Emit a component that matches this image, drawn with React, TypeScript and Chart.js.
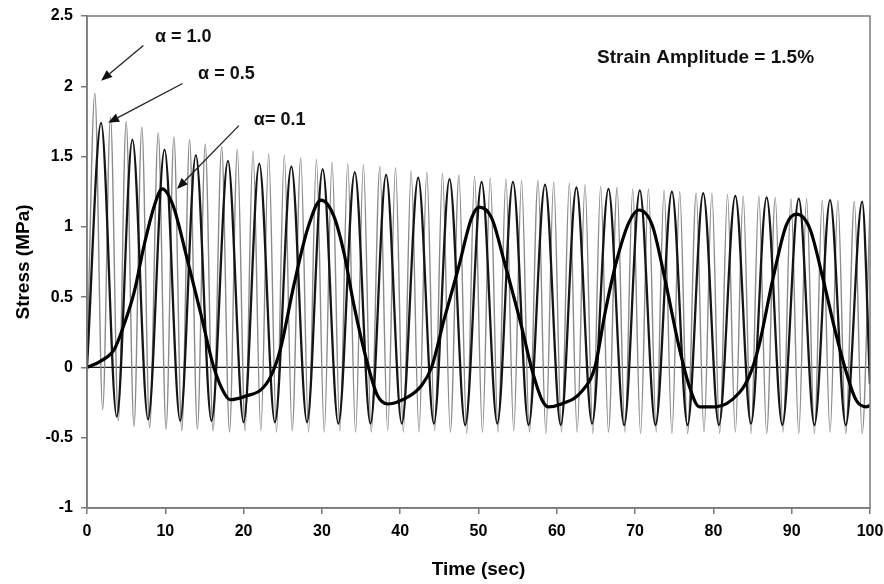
import React, { useEffect, useRef } from 'react';
import { Chart, registerables } from 'chart.js';

Chart.register(...registerables);

// ---------- data ----------
const xTickValues = [0, 10, 20, 30, 40, 50, 60, 70, 80, 90, 100];
const yTickValues = [-1, -0.5, 0, 0.5, 1, 1.5, 2, 2.5];

// alpha = 1.0 (thin grey)
const a10Start = [0, 0];
const a10PeakTime = [1.0, 3.0, 5.0, 7.0, 9.1, 11.1, 13.1, 15.1, 17.2, 19.2, 21.2, 23.2, 25.2, 27.3, 29.3, 31.3, 33.3, 35.3, 37.4, 39.4, 41.4, 43.4, 45.4, 47.5, 49.5, 51.5, 53.5, 55.5, 57.6, 59.6, 61.6, 63.6, 65.6, 67.7, 69.7, 71.7, 73.7, 75.7, 77.8, 79.8, 81.8, 83.8, 85.8, 87.9, 89.9, 91.9, 93.9, 95.9, 98.0, 100.0];
const a10PeakStress = [1.95, 1.78, 1.75, 1.71, 1.67, 1.64, 1.62, 1.59, 1.57, 1.55, 1.54, 1.52, 1.51, 1.49, 1.48, 1.46, 1.45, 1.44, 1.43, 1.42, 1.40, 1.39, 1.38, 1.37, 1.36, 1.35, 1.34, 1.33, 1.33, 1.32, 1.31, 1.30, 1.29, 1.28, 1.27, 1.27, 1.26, 1.25, 1.24, 1.24, 1.23, 1.22, 1.22, 1.21, 1.20, 1.20, 1.19, 1.19, 1.18, 1.15];
const a10TroughTime = [2.0, 4.0, 6.0, 8.0, 10.1, 12.1, 14.1, 16.1, 18.2, 20.2, 22.2, 24.2, 26.2, 28.3, 30.3, 32.3, 34.3, 36.3, 38.4, 40.4, 42.4, 44.4, 46.4, 48.5, 50.5, 52.5, 54.5, 56.5, 58.6, 60.6, 62.6, 64.6, 66.6, 68.7, 70.7, 72.7, 74.7, 76.7, 78.8, 80.8, 82.8, 84.8, 86.8, 88.9, 90.9, 92.9, 94.9, 96.9, 99.0];
const a10TroughStress = [-0.30, -0.38, -0.42, -0.43, -0.44, -0.45, -0.44, -0.45, -0.46, -0.45, -0.45, -0.46, -0.45, -0.46, -0.46, -0.45, -0.46, -0.46, -0.45, -0.46, -0.46, -0.45, -0.46, -0.47, -0.46, -0.46, -0.45, -0.46, -0.47, -0.46, -0.46, -0.47, -0.46, -0.46, -0.47, -0.46, -0.47, -0.47, -0.46, -0.47, -0.46, -0.47, -0.47, -0.46, -0.47, -0.47, -0.46, -0.47, -0.47];

// alpha = 0.5 (medium black)
const a05Start = [0, 0];
const a05End = [100, -0.12];
const a05PeakTime = [1.8, 5.8, 9.9, 13.9, 18.0, 22.0, 26.1, 30.1, 34.2, 38.2, 42.3, 46.3, 50.4, 54.4, 58.5, 62.5, 66.6, 70.6, 74.7, 78.7, 82.8, 86.8, 90.9, 94.9, 99.0];
const a05PeakStress = [1.74, 1.62, 1.55, 1.51, 1.47, 1.45, 1.43, 1.41, 1.39, 1.37, 1.35, 1.34, 1.32, 1.32, 1.30, 1.28, 1.27, 1.26, 1.25, 1.24, 1.22, 1.21, 1.20, 1.19, 1.18];
const a05TroughTime = [3.8, 7.8, 11.9, 15.9, 20.0, 24.0, 28.1, 32.1, 36.2, 40.2, 44.3, 48.3, 52.4, 56.4, 60.5, 64.5, 68.6, 72.6, 76.7, 80.7, 84.8, 88.8, 92.9, 96.9];
const a05TroughStress = [-0.35, -0.37, -0.38, -0.38, -0.39, -0.39, -0.39, -0.40, -0.40, -0.40, -0.40, -0.41, -0.40, -0.41, -0.41, -0.40, -0.41, -0.41, -0.41, -0.41, -0.40, -0.41, -0.41, -0.41];

// alpha = 0.1 (thick black)
const a01Time = [0, 1.75, 3.5, 4.7, 6.0, 7.3, 8.6, 9.6, 11.0, 12.8, 14.5, 16.2, 17.5, 18.3, 20.5, 22.2, 23.5, 24.7, 26.4, 28.2, 29.9, 31.5, 32.8, 34.1, 35.9, 37.1, 38.4, 41.0, 42.7, 44.0, 45.6, 47.4, 49.1, 50.1, 51.7, 53.3, 55.5, 56.8, 58.1, 58.9, 60.6, 63.2, 64.9, 66.2, 67.6, 69.2, 70.5, 72.2, 73.8, 75.6, 76.9, 78.2, 80.3, 83.3, 84.6, 85.8, 87.6, 89.3, 90.6, 92.3, 94.0, 95.6, 97.0, 98.2, 99.5, 100.0];
const a01Stress = [0, 0.045, 0.13, 0.30, 0.53, 0.87, 1.15, 1.27, 1.15, 0.77, 0.39, 0.0, -0.18, -0.23, -0.20, -0.16, -0.06, 0.13, 0.58, 0.99, 1.19, 1.08, 0.82, 0.44, 0.01, -0.20, -0.26, -0.21, -0.13, 0.0, 0.34, 0.70, 1.06, 1.14, 1.06, 0.75, 0.29, -0.01, -0.23, -0.28, -0.26, -0.17, 0.01, 0.40, 0.75, 1.03, 1.12, 1.01, 0.63, 0.15, -0.13, -0.28, -0.28, -0.18, -0.06, 0.15, 0.63, 1.01, 1.09, 0.99, 0.63, 0.25, -0.04, -0.23, -0.28, -0.27];

// annotations (data coordinates)
const labelTexts = ['α = 1.0', 'α = 0.5', 'α= 0.1'];
const labelPos = [[12.3, 2.35], [17.8, 2.09], [24.6, 1.76]];
const arrowFrom = [[7.2, 2.29], [12.2, 2.02], [19.4, 1.72]];
const arrowTo = [[1.8, 2.04], [2.7, 1.74], [11.5, 1.27]];
const noteText = 'Strain Amplitude = 1.5%';
const notePos = [79.0, 2.2];

// ---------- helpers ----------
type Pt = { x: number; y: number };
function buildWave(start: number[], pt: number[], pv: number[], tt: number[], tv: number[], end?: number[]): Pt[] {
  const pts: Pt[] = [{ x: start[0], y: start[1] }];
  pt.forEach((t, i) => pts.push({ x: t, y: pv[i] }));
  tt.forEach((t, i) => pts.push({ x: t, y: tv[i] }));
  if (end) pts.push({ x: end[0], y: end[1] });
  pts.sort((a, b) => a.x - b.x);
  return pts;
}

const FAMILY = "'Liberation Sans', Arial, Helvetica, sans-serif";

const annotationPlugin = {
  id: 'annotations',
  beforeDatasetsDraw(chart: any) {
    const { ctx, chartArea, scales } = chart;
    const y0 = scales.y.getPixelForValue(0);
    ctx.save();
    ctx.strokeStyle = '#1a1a1a';
    ctx.lineWidth = 1.2;
    ctx.beginPath();
    ctx.moveTo(chartArea.left, y0);
    ctx.lineTo(chartArea.right, y0);
    ctx.stroke();
    ctx.restore();
  },
  afterDatasetsDraw(chart: any) {
    const { ctx, scales } = chart;
    const X = (v: number) => scales.x.getPixelForValue(v);
    const Y = (v: number) => scales.y.getPixelForValue(v);
    ctx.save();
    ctx.fillStyle = '#111';
    ctx.strokeStyle = '#222';
    ctx.lineWidth = 1.3;
    ctx.font = `bold 18px ${FAMILY}`;
    ctx.textAlign = 'center';
    ctx.textBaseline = 'middle';
    labelTexts.forEach((t, i) => {
      ctx.fillText(t, X(labelPos[i][0]), Y(labelPos[i][1]));
      const x1 = X(arrowFrom[i][0]), y1 = Y(arrowFrom[i][1]);
      const x2 = X(arrowTo[i][0]), y2 = Y(arrowTo[i][1]);
      const ang = Math.atan2(y2 - y1, x2 - x1);
      const hl = 11, hw = 4.5;
      const bx = x2 - hl * Math.cos(ang), by = y2 - hl * Math.sin(ang);
      ctx.beginPath();
      ctx.moveTo(x1, y1);
      ctx.lineTo(bx, by);
      ctx.stroke();
      ctx.beginPath();
      ctx.moveTo(x2, y2);
      ctx.lineTo(bx + hw * Math.sin(ang), by - hw * Math.cos(ang));
      ctx.lineTo(bx - hw * Math.sin(ang), by + hw * Math.cos(ang));
      ctx.closePath();
      ctx.fill();
    });
    ctx.font = `bold 19px ${FAMILY}`;
    ctx.fillText(noteText, X(notePos[0]), Y(notePos[1]));
    ctx.restore();
  },
  afterDraw(chart: any) {
    const { ctx, chartArea } = chart;
    ctx.save();
    ctx.strokeStyle = '#7a7a7a';
    ctx.lineWidth = 1.5;
    ctx.strokeRect(chartArea.left, chartArea.top, chartArea.right - chartArea.left, chartArea.bottom - chartArea.top);
    ctx.restore();
  },
};

export default function App() {
  const ref = useRef<HTMLCanvasElement>(null);
  useEffect(() => {
    if (!ref.current) return;
    const tickFont = { family: FAMILY, weight: 'bold' as const, size: 16 };
    const titleFont = { family: FAMILY, weight: 'bold' as const, size: 19 };
    const chart = new Chart(ref.current, {
      type: 'line',
      data: {
        datasets: [
          {
            label: 'α = 0.1',
            data: a01Time.map((t, i) => ({ x: t, y: a01Stress[i] })),
            borderColor: '#000',
            borderWidth: 3.2,
            pointRadius: 0,
            cubicInterpolationMode: 'monotone',
            fill: false,
          },
          {
            label: 'α = 0.5',
            data: buildWave(a05Start, a05PeakTime, a05PeakStress, a05TroughTime, a05TroughStress, a05End),
            borderColor: '#151515',
            borderWidth: 2.3,
            pointRadius: 0,
            cubicInterpolationMode: 'monotone',
            fill: false,
          },
          {
            label: 'α = 1.0',
            data: buildWave(a10Start, a10PeakTime, a10PeakStress, a10TroughTime, a10TroughStress),
            borderColor: '#8a8a8a',
            borderWidth: 1.4,
            pointRadius: 0,
            cubicInterpolationMode: 'monotone',
            fill: false,
          },
        ] as any,
      },
      options: {
        animation: false,
        responsive: false,
        layout: { padding: { top: 16, right: 14, left: 0, bottom: 0 } },
        plugins: { legend: { display: false }, tooltip: { enabled: false } },
        scales: {
          x: {
            type: 'linear',
            min: 0,
            max: 100,
            afterBuildTicks: (s: any) => { s.ticks = xTickValues.map((v) => ({ value: v })); },
            ticks: { font: tickFont, color: '#000', padding: 8, maxRotation: 0, autoSkip: false },
            grid: { drawOnChartArea: false, drawTicks: true, tickLength: 6, color: '#7a7a7a', lineWidth: 1.5 },
            border: { color: '#7a7a7a', width: 1.5 },
            title: { display: true, text: 'Time (sec)', font: titleFont, color: '#000', padding: { top: 0, bottom: 3 } },
            afterFit: (s: any) => { s.height = 76; s.paddingLeft = 0; s.paddingRight = 0; },
          },
          y: {
            type: 'linear',
            min: -1,
            max: 2.5,
            afterBuildTicks: (s: any) => { s.ticks = yTickValues.map((v) => ({ value: v })); },
            ticks: { font: tickFont, color: '#000', padding: 8, callback: (v: any) => String(v) },
            grid: { drawOnChartArea: false, drawTicks: true, tickLength: 6, color: '#7a7a7a', lineWidth: 1.5 },
            border: { color: '#7a7a7a', width: 1.5 },
            title: { display: true, text: 'Stress (MPa)', font: titleFont, color: '#000', padding: { top: 12, bottom: 0 } },
            afterFit: (s: any) => { s.width = 87; s.paddingTop = 0; s.paddingBottom = 0; },
          },
        },
      } as any,
      plugins: [annotationPlugin],
    });
    return () => chart.destroy();
  }, []);
  return (
    <div style={{ position: 'fixed', left: 0, top: 0, width: 884, height: 584, background: '#fff' }}>
      <canvas ref={ref} width={884} height={584} style={{ display: 'block' }} />
    </div>
  );
}
